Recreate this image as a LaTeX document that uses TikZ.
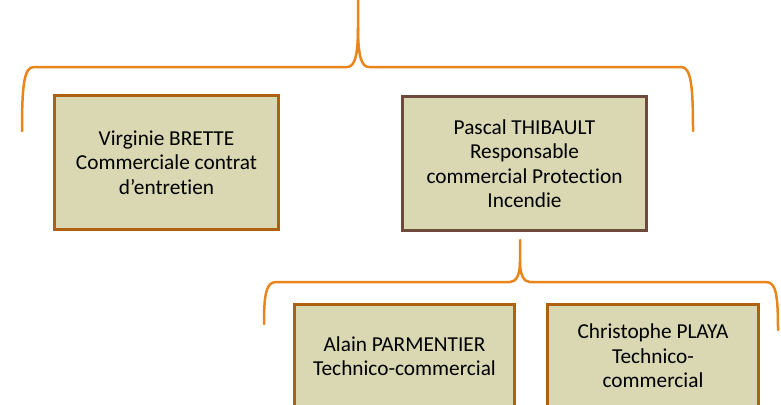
\documentclass[tikz,border=0pt]{standalone}
\usepackage{fontspec}
\setmainfont{Carlito}[Ligatures={NoCommon}]
\definecolor{braceorange}{HTML}{E8861C}
\definecolor{boxfill}{HTML}{D9D8B3}
\definecolor{boxrust}{HTML}{AE620F}
\definecolor{boxbrown}{HTML}{6D4A3A}
\begin{document}
\begin{tikzpicture}[x=1pt,y=-1pt]
      \clip (0,0) rectangle (781,404);
      \begin{scope}[every node/.style={rectangle,draw=boxrust,line width=3pt,fill=boxfill,
          align=center,inner sep=0pt,minimum height=134pt,font=\fontsize{21.3}{24.5}\selectfont}]
        \node[minimum width=224pt] (virginie) at (166.5,162.5) {Virginie BRETTE\\Commerciale contrat\\d’entretien};
        \node[draw=boxbrown,minimum width=244pt] (pascal) at (524.5,163.5) {Pascal THIBAULT\\Responsable\\commercial Protection\\Incendie};
        \node[minimum width=220pt,minimum height=103pt] (alain) at (404.5,356) {Alain PARMENTIER\\Technico-commercial};
        \node[minimum width=211pt,minimum height=103pt] (christophe) at (653,356) {Christophe PLAYA\\Technico-\\commercial};
      \end{scope}
      \begin{scope}[every path/.style={draw=braceorange,line width=2.5pt,line cap=round}]
        % top brace
        \coordinate (topsplit) at (358,0);
        \coordinate (topleft) at (22,131);
        \coordinate (topright) at (693,131);
        \path (topleft) .. controls (22,85) and (24,67) .. (34,67) -- (347,67)
          .. controls (354,67) and (358,58) .. (358,28) -- (topsplit);
        \path (topright) .. controls (693,85) and (691,67) .. (681,67) -- (369,67)
          .. controls (362,67) and (358,58) .. (358,28);
        % brace under pascal
        \coordinate (subsplit) at (520,240);
        \coordinate (subleft) at (264,324);
        \coordinate (subright) at (778,330);
        \path (subleft) .. controls (264,295) and (266,282) .. (276,282) -- (510,282)
          .. controls (516,282) and (520,275) .. (520,262) -- (subsplit);
        \path (subright) .. controls (778,295) and (776,282) .. (766,282) -- (530,282)
          .. controls (524,282) and (520,275) .. (520,262);
      \end{scope}
    \end{tikzpicture}
\end{document}
